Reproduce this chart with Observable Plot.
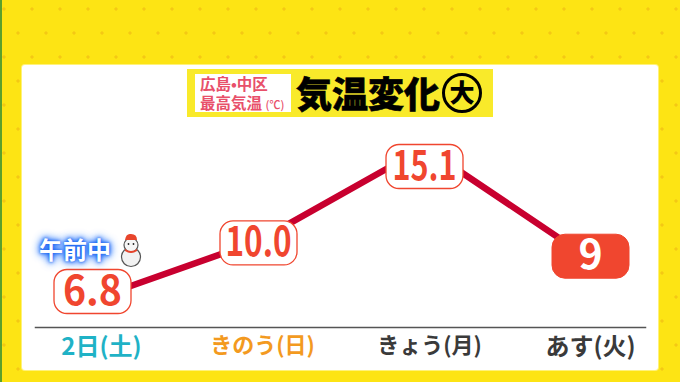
<!DOCTYPE html>
<html lang="ja"><head><meta charset="utf-8">
<script src="https://cdn.jsdelivr.net/npm/d3@7"></script>
<script src="https://cdn.jsdelivr.net/npm/@observablehq/plot@0.6"></script>
<style>
html,body{margin:0;padding:0;width:680px;height:382px;overflow:hidden}
body{position:relative;font-family:"Noto Sans CJK JP","Noto Sans",sans-serif;
background-color:#fde414;
background-image:radial-gradient(circle at 4px 9px,#f4c814 1.2px,transparent 2px),radial-gradient(circle at 18px 33px,#f4c814 1.2px,transparent 2px);
background-size:28px 48px}
#edge{position:absolute;left:0;top:0;width:1.5px;height:382px;background:#5aa02c}
#panel{position:absolute;left:22px;top:65px;width:636px;height:305px;background:#fff;border-radius:3px;box-shadow:0 0 0 1px #fff27a}
#chart{position:absolute;left:0;top:0}
#chart svg{background:transparent!important;display:block}
#banner{position:absolute;left:187px;top:69px;width:306px;height:48px;background:#f9ea2a}
#place{position:absolute;left:8px;top:5px;width:96px;height:38px;background:#fff;color:#e8506a;font-weight:700;font-size:15.5px;line-height:19px;padding-left:5px;box-sizing:border-box;white-space:nowrap}
#place small{font-size:11px;font-weight:500}
#head{position:absolute;left:109px;top:0;height:48px;line-height:46px;color:#000;font-weight:900;font-size:36px;white-space:nowrap;-webkit-text-stroke:.6px #000}
#big{position:absolute;left:255px;top:4px;width:40px;height:40px;box-sizing:border-box;border:3.5px solid #000;border-radius:50%;text-align:center;line-height:31px;font-weight:900;font-size:25px;color:#000}
#am{position:absolute;left:39px;top:234px;line-height:30px;color:#fff;font-weight:700;font-size:24px;white-space:nowrap;text-shadow:0 0 3px #1a63f0,0 0 5px #1a63f0,0 0 8px #2a7bff,0 0 10px #2a7bff}
#snow{position:absolute;left:118px;top:232px}
.digits{font-weight:700;-webkit-text-stroke:.9px currentColor}
.tick{font-weight:700}
</style></head><body>
<div id="edge"></div><div id="panel"></div><div id="chart"></div>
<div id="banner"><div id="place">広島•中区<br>最高気温 <small>(℃)</small></div><div id="head">気温変化</div><div id="big">大</div></div>
<div id="am">午前中</div>
<svg id="snow" width="26" height="36" viewBox="0 0 26 36">
<circle cx="13" cy="25" r="9.5" fill="#f2f2f2" stroke="#555" stroke-width="1.2"/>
<circle cx="13" cy="13" r="7" fill="#f6f6f6" stroke="#555" stroke-width="1.2"/>
<path d="M7 8 Q8 1 13 2 Q19 2 19 8 Z" fill="#e8452c"/>
<path d="M7 17 Q13 21 19 17 L19 19 Q13 23 7 19 Z" fill="#e8452c"/>
<circle cx="10.5" cy="12" r=".9" fill="#222"/><circle cx="15.5" cy="12" r=".9" fill="#222"/>
</svg>
<script>
const days = ["2日(土)", "きのう(日)", "きょう(月)", "あす(火)"];
const highs = [6.8, 10.0, 15.1, 9];
const labels = ["6.8", "10.0", "15.1", "9"];
const dayColors = ["#1fb2c6", "#f39a1f", "#3a3a3a", "#3a3a3a"];
const daySizes = [24, 22, 22, 24];
const dayShift = [9, 4, 5, 0];
const labelShift = [-8, 2, 19, -3];
const labelWidth = [59, 66, 64, null];
const forecast = [false, false, false, true];

const rows = days.map((day, i) => ({day, high: highs[i], label: labels[i], shift: labelShift[i], width: labelWidth[i], forecast: forecast[i]}));
const red = "#f0462f";
const pill = {draw(c) {
  const w = 38.5, h = 22, r = 13;
  c.moveTo(-w + r, -h);
  c.arcTo(w, -h, w, h, r);
  c.arcTo(w, h, -w, h, r);
  c.arcTo(-w, h, -w, -h, r);
  c.arcTo(-w, -h, w, -h, r);
  c.closePath();
}};
const squeezeTo = (width) => (index, scales, values, dimensions, context, next) => {
  const g = next(index, scales, values, dimensions, context);
  g.querySelectorAll("text").forEach(t => {
    t.style.color = t.getAttribute("fill") || g.getAttribute("fill");
    if (width) {
      t.setAttribute("textLength", width);
      t.setAttribute("lengthAdjust", "spacingAndGlyphs");
    }
  });
  return g;
};

const marks = [
  Plot.frame({anchor: "bottom", stroke: "#555", strokeWidth: 1.5}),
  Plot.line(rows, {x: "day", y: "high", stroke: "#c8002f", strokeWidth: 6.5, curve: "linear", strokeLinejoin: "round"})
];
days.forEach((d, i) => marks.push(Plot.axisX({
  ticks: [d], tickSize: 0, tickPadding: 10, label: null, fontSize: daySizes[i], dx: dayShift[i],
  fill: dayColors[i], className: "tick", anchor: "bottom"
})));
rows.forEach(row => {
  marks.push(Plot.dot([row], {
    x: "day", y: "high", dy: row.shift, r: 10, symbol: pill,
    fill: row.forecast ? red : "#fff", stroke: red, strokeWidth: row.forecast ? 1 : 1.3
  }));
  marks.push(Plot.text([row], {
    x: "day", y: "high", dy: row.shift, text: "label", fontSize: 41,
    fill: row.forecast ? "#fff" : red, className: "digits", stroke: null,
    render: squeezeTo(row.width)
  }));
});

const chart = Plot.plot({
  width: 680, height: 382,
  marginTop: 65, marginBottom: 55, marginLeft: 35, marginRight: 35,
  style: {background: "transparent", fontFamily: '"Noto Sans CJK JP", sans-serif', overflow: "visible"},
  x: {type: "point", domain: days, range: [91, 590], padding: 0},
  y: {domain: [6.8, 15.1], range: [299, 147], axis: null},
  marks
});
document.getElementById("chart").appendChild(chart);
</script>
</body></html>
